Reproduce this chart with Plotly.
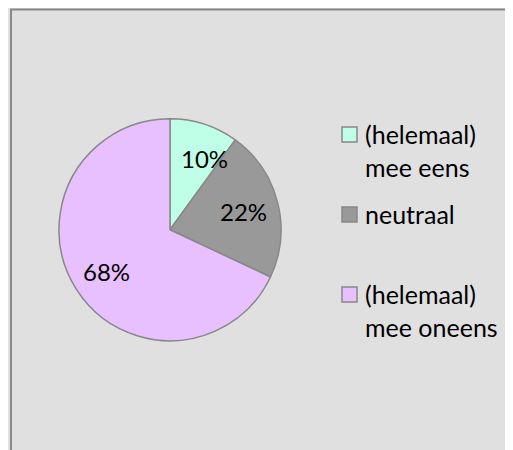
import math
import plotly.graph_objects as go

# ---- data ----
labels = ["(helemaal) mee eens", "neutraal", "(helemaal) mee oneens"]
legend_lines = [["(helemaal)", "mee eens"], ["neutraal"], ["(helemaal)", "mee oneens"]]
values = [10, 22, 68]
colors = ["#bfffe8", "#999999", "#e8bfff"]

# page body has an 8px margin; the figure fills the rest of the 513x450 window
OFF = 8
W, H = 513 - OFF, 450 - OFF


def px(x):
    return (x - OFF) / W


def py(y):
    return 1 - (y - OFF) / H


FONT = "Lato"
CX, CY, R = 170, 229.7, 111

fig = go.Figure(
    go.Pie(
        labels=labels,
        values=values,
        sort=False,
        direction="clockwise",
        rotation=0,
        marker=dict(colors=colors, line=dict(color="#888888", width=1.5)),
        textinfo="none",
        domain=dict(x=[px(CX - R), px(CX + R)], y=[py(CY + R), py(CY - R)]),
        showlegend=False,
        hoverinfo="skip",
    )
)

shapes = [
    dict(type="rect", xref="paper", yref="paper",
         x0=px(11), x1=px(540), y0=py(9.5), y1=py(480),
         fillcolor="#e0e0e0", line=dict(color="#888888", width=2), layer="below")
]
annotations = []

# percentage labels inside slices
total = sum(values)
start = 0.0
for v in values:
    frac = v / total
    mid = (start + frac / 2) * 2 * math.pi
    x = CX + 0.68 * R * math.sin(mid)
    y = CY - 0.68 * R * math.cos(mid)
    if start == 0.0:
        # keep the label clear of the slice's starting edge (12 o'clock line)
        x = max(x, CX + 12 + 22.5)
    annotations.append(dict(text=f"{round(frac * 100)}%", xref="paper", yref="paper",
                            x=px(x), y=py(y + 1), xanchor="center", yanchor="middle",
                            showarrow=False, borderpad=0,
                            font=dict(family=FONT, size=24, color="black")))
    start += frac

# legend
for i, lines in enumerate(legend_lines):
    base = 142 + 80 * i
    shapes.append(dict(type="rect", xref="paper", yref="paper",
                       x0=px(342), x1=px(357), y0=py(base), y1=py(base - 15),
                       fillcolor=colors[i], line=dict(color="#888888", width=1.5)))
    annotations.append(dict(text="<br>".join(lines), xref="paper", yref="paper",
                            x=px(364), y=py(base - 24), xanchor="left", yanchor="top",
                            align="left", showarrow=False, borderpad=0,
                            font=dict(family=FONT, size=25, color="black")))

fig.update_layout(
    width=W, height=H,
    margin=dict(l=0, r=0, t=0, b=0),
    paper_bgcolor="#e0e0e0",
    plot_bgcolor="#e0e0e0",
    shapes=shapes,
    annotations=annotations,
)

fig.write_html("out.html")
